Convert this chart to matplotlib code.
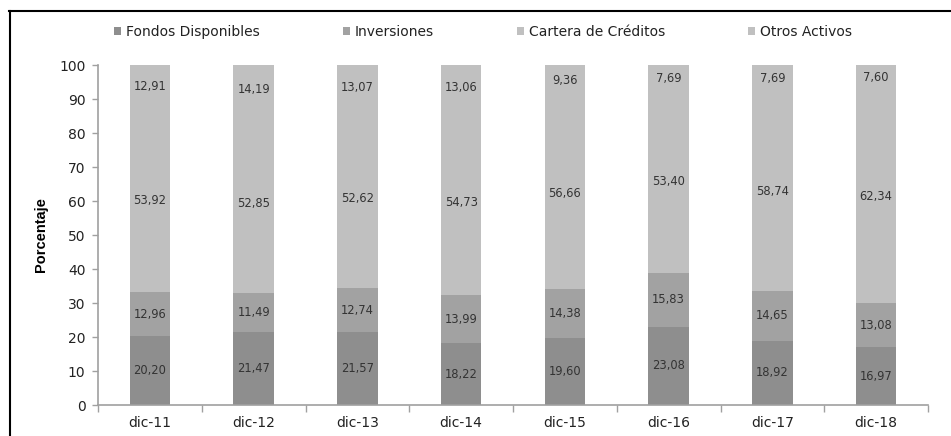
import matplotlib
matplotlib.use("Agg")
import matplotlib.pyplot as plt
from matplotlib.patches import Patch
from matplotlib.lines import Line2D
import numpy as np

categories = ["dic-11", "dic-12", "dic-13", "dic-14", "dic-15", "dic-16", "dic-17", "dic-18"]
fondos = [20.20, 21.47, 21.57, 18.22, 19.60, 23.08, 18.92, 16.97]
inversiones = [12.96, 11.49, 12.74, 13.99, 14.38, 15.83, 14.65, 13.08]
cartera = [53.92, 52.85, 52.62, 54.73, 56.66, 53.40, 58.74, 62.34]
otros = [12.91, 14.19, 13.07, 13.06, 9.36, 7.69, 7.69, 7.60]
series_names = ["Fondos Disponibles", "Inversiones", "Cartera de Créditos", "Otros Activos"]
y_ticks = [0, 10, 20, 30, 40, 50, 60, 70, 80, 90, 100]

colors = ["#8e8e8e", "#a2a2a2", "#c0c0c0", "#c0c0c0"]

plt.rcParams['font.family'] = ['DejaVu Sans']

fig = plt.figure(figsize=(9.51, 4.36), dpi=100)
ax = fig.add_axes([98/951, 31/436, 830/951, 340/436])

x = np.arange(len(categories))
width = 0.39
bottom = np.zeros(len(categories))
handles = []
for vals, col, name in zip([fondos, inversiones, cartera, otros], colors, series_names):
    vals = np.array(vals)
    ax.bar(x, vals, width, bottom=bottom, color=col, edgecolor='none')
    for xi, b, v in zip(x, bottom, vals):
        ax.text(xi, b + v / 2, f"{v:.2f}".replace('.', ','), ha='center', va='center',
                fontsize=8.3, color='#333333')
    bottom = bottom + vals
    handles.append(Patch(facecolor=col, edgecolor='none', label=name))

ax.set_xlim(-0.5, len(categories) - 0.5)
ax.set_ylim(0, 100)
ax.set_yticks(y_ticks)
ax.set_xticks(x)
ax.set_xticklabels(categories)
ax.set_xticks(np.arange(len(categories) + 1) - 0.5, minor=True)
ax.tick_params(axis='x', which='major', length=0, pad=8, labelsize=10, labelcolor='#222222')
ax.tick_params(axis='x', which='minor', length=5, color='#a0a0a0', width=1, direction='out')
ax.tick_params(axis='y', length=4, color='#a0a0a0', width=1, direction='out', labelsize=10,
               labelcolor='#222222', pad=5)

for s in ['top', 'right']:
    ax.spines[s].set_visible(False)
for s in ['left', 'bottom']:
    ax.spines[s].set_color('#a0a0a0')
    ax.spines[s].set_linewidth(1.2)

ax.set_ylabel("Porcentaje", fontsize=10.5, fontweight='bold',
              family=['Liberation Sans Narrow', 'Liberation Sans', 'DejaVu Sans'], labelpad=8)

fig.legend(handles=handles, loc='center', bbox_to_anchor=(483/951, 1 - 32/436), ncol=4,
           frameon=False, fontsize=10, handlelength=0.5, handleheight=0.5, handletextpad=0.35,
           columnspacing=6.0, labelcolor='#222222')

# outer frame (cropped at right/bottom)
fig.add_artist(Line2D([9/951, 1.0], [1 - 11/436, 1 - 11/436], color='black', lw=1.5,
                      transform=fig.transFigure))
fig.add_artist(Line2D([10/951, 10/951], [0, 1 - 11/436], color='black', lw=1.5,
                      transform=fig.transFigure))

fig.savefig("out.png", dpi=100)
